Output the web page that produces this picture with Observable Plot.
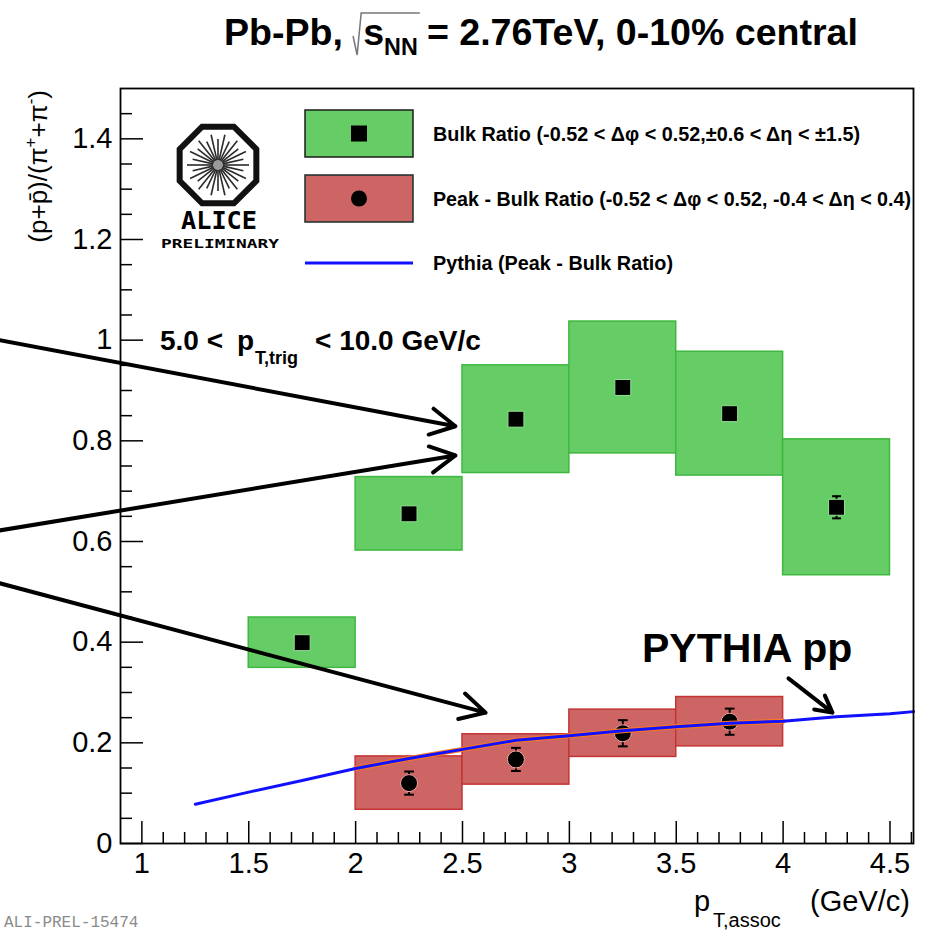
<!DOCTYPE html>
<html>
<head>
<meta charset="utf-8">
<script src="https://cdn.jsdelivr.net/npm/d3@7"></script>
<script src="https://cdn.jsdelivr.net/npm/@observablehq/plot@0.6"></script>
<style>
  html, body { margin: 0; padding: 0; background: #fff; }
  svg { display: block; }
</style>
</head>
<body>
<div id="chart"></div>
<script>
// ---- Bulk ratio (green boxes = systematic, bars = statistical) ----
const bulkBinLow  = [1.5, 2.0, 2.5, 3.0, 3.5, 4.0];
const bulkBinHigh = [2.0, 2.5, 3.0, 3.5, 4.0, 4.5];
const bulkRatio   = [0.399, 0.655, 0.843, 0.906, 0.854, 0.668];
const bulkStat    = [0.008, 0.010, 0.010, 0.010, 0.012, 0.022];
const bulkSys     = [0.050, 0.073, 0.107, 0.131, 0.123, 0.135];

// ---- Peak - Bulk ratio (red boxes) ----
const peakBinLow  = [2.0, 2.5, 3.0, 3.5];
const peakBinHigh = [2.5, 3.0, 3.5, 4.0];
const peakRatio   = [0.120, 0.167, 0.219, 0.242];
const peakStat    = [0.023, 0.023, 0.026, 0.026];
const peakSys     = [0.053, 0.050, 0.047, 0.049];

// ---- PYTHIA pp curve (Peak - Bulk ratio) ----
const pythiaPt    = [1.25, 1.5, 1.75, 2.0, 2.25, 2.5, 2.75, 3.0, 3.25, 3.5, 3.75, 4.0, 4.25, 4.5, 4.61];
const pythiaRatio = [0.078, 0.102, 0.125, 0.149, 0.169, 0.187, 0.205, 0.214, 0.224, 0.232, 0.239, 0.243, 0.252, 0.258, 0.262];

// ---- axis ticks ----
const xMajorTicks = [1, 1.5, 2, 2.5, 3, 3.5, 4, 4.5];
const yMajorTicks = [0, 0.2, 0.4, 0.6, 0.8, 1.0, 1.2, 1.4];

// ---- annotation arrows (data units) ----
const arrowStartX = [0.335, 0.335, 0.335, 4.025];
const arrowStartY = [1.000, 0.622, 0.517, 0.328];
const arrowEndX   = [2.467, 2.467, 2.608, 4.231];
const arrowEndY   = [0.829, 0.771, 0.260, 0.260];

// ---- layout ----
const W = 926, H = 933, ML = 120, MR = 13, MT = 88, MB = 90;
const xDomain = [0.9, 4.61], yDomain = [0, 1.5];
const pxPerX = (W - ML - MR) / (xDomain[1] - xDomain[0]);
const pxPerY = (H - MT - MB) / (yDomain[1] - yDomain[0]);
const FONT = "'Liberation Sans', Arial, Helvetica, sans-serif";

const isMajor = (v, majors) => majors.some(m => Math.abs(m - v) < 1e-6);
const xMinorTicks = d3.range(11, 47).map(k => k / 10).filter(v => !isMajor(v, xMajorTicks));
const yMinorTicks = d3.range(1, 30).map(k => k / 20).filter(v => !isMajor(v, yMajorTicks));

const bulk = bulkRatio.map((v, i) => ({
  lo: bulkBinLow[i], hi: bulkBinHigh[i], pt: (bulkBinLow[i] + bulkBinHigh[i]) / 2,
  v, stat: bulkStat[i], sys: bulkSys[i]
}));
const peak = peakRatio.map((v, i) => ({
  lo: peakBinLow[i], hi: peakBinHigh[i], pt: (peakBinLow[i] + peakBinHigh[i]) / 2,
  v, stat: peakStat[i], sys: peakSys[i]
}));
const pythia = pythiaPt.map((x, i) => ({x, y: pythiaRatio[i]}));
const pythiaOverlap = pythia.filter(d => d.x >= 2 && d.x <= 4);
const arrows = arrowStartX.map((x1, i) => ({x1, y1: arrowStartY[i], x2: arrowEndX[i], y2: arrowEndY[i]}));

// horizontal cap used on the error bars
const capSymbol = {
  draw(ctx, size) {
    const w = Math.sqrt(size) / 2;
    ctx.moveTo(-w, 0);
    ctx.lineTo(w, 0);
  }
};
const fmt = d => String(Math.round(d * 10) / 10);

const GREEN = "#66cc66", GREEN_EDGE = "#3fb83f";
const RED = "#cd6565", RED_EDGE = "#c43434";
const BLUE = "#1111ff";

const plot = Plot.plot({
  width: W, height: H,
  marginLeft: ML, marginRight: MR, marginTop: MT, marginBottom: MB,
  style: {fontFamily: FONT, background: "#fff", color: "#000", overflow: "visible"},
  x: {domain: xDomain, label: null},
  y: {domain: yDomain, label: null},
  marks: [
    Plot.rect(bulk, {x1: "lo", x2: "hi", y1: d => d.v - d.sys, y2: d => d.v + d.sys,
      fill: GREEN, stroke: GREEN_EDGE, strokeWidth: 1.5}),
    Plot.rect(peak, {x1: "lo", x2: "hi", y1: d => d.v - d.sys, y2: d => d.v + d.sys,
      fill: RED, stroke: RED_EDGE, strokeWidth: 1.5}),

    // statistical error bars
    Plot.ruleX(bulk, {x: "pt", y1: d => d.v - d.stat, y2: d => d.v + d.stat, stroke: "#000", strokeWidth: 2}),
    Plot.dot(bulk, {x: "pt", y: d => d.v + d.stat, symbol: capSymbol, r: 5, stroke: "#000", strokeWidth: 2, fill: "none"}),
    Plot.dot(bulk, {x: "pt", y: d => d.v - d.stat, symbol: capSymbol, r: 5, stroke: "#000", strokeWidth: 2, fill: "none"}),
    Plot.ruleX(peak, {x: "pt", y1: d => d.v - d.stat, y2: d => d.v + d.stat, stroke: "#000", strokeWidth: 2}),
    Plot.dot(peak, {x: "pt", y: d => d.v + d.stat, symbol: capSymbol, r: 5.5, stroke: "#000", strokeWidth: 2, fill: "none"}),
    Plot.dot(peak, {x: "pt", y: d => d.v - d.stat, symbol: capSymbol, r: 5.5, stroke: "#000", strokeWidth: 2, fill: "none"}),

    // markers
    Plot.dot(bulk, {x: "pt", y: "v", symbol: "square", r: 9, fill: "#000", stroke: "#95e095", strokeWidth: 1}),
    Plot.dot(peak, {x: "pt", y: "v", r: 8.5, fill: "#000", stroke: "#f2a4a4", strokeWidth: 1}),

    // PYTHIA curve
    Plot.line(pythiaOverlap, {x: "x", y: "y", stroke: "#ff7a1a", strokeWidth: 5}),
    Plot.line(pythia, {x: "x", y: "y", stroke: BLUE, strokeWidth: 3}),

    // inward ticks
    Plot.ruleX(xMajorTicks, {x: d => d, y1: yDomain[0], y2: yDomain[0] + 22 / pxPerY, stroke: "#000", strokeWidth: 1.5}),
    Plot.ruleX(xMinorTicks, {x: d => d, y1: yDomain[0], y2: yDomain[0] + 11 / pxPerY, stroke: "#000", strokeWidth: 1.5}),
    Plot.ruleY(yMajorTicks, {y: d => d, x1: xDomain[0], x2: xDomain[0] + 23 / pxPerX, stroke: "#000", strokeWidth: 1.5}),
    Plot.ruleY(yMinorTicks, {y: d => d, x1: xDomain[0], x2: xDomain[0] + 12 / pxPerX, stroke: "#000", strokeWidth: 1.5}),

    Plot.axisX({ticks: xMajorTicks, tickSize: 0, tickPadding: 9, fontSize: 29, tickFormat: fmt, label: null}),
    Plot.axisY({ticks: yMajorTicks, tickSize: 0, tickPadding: 8, fontSize: 29, tickFormat: fmt, label: null}),
    Plot.frame({stroke: "#000", strokeWidth: 1.8}),

    // annotation arrows
    Plot.arrow(arrows, {x1: "x1", y1: "y1", x2: "x2", y2: "y2", stroke: "#000", strokeWidth: 4, headLength: 10.5, headAngle: 56})
  ]
});
document.getElementById("chart").appendChild(plot);

const svg = d3.select(plot);
const g = svg.append("g")
  .attr("font-family", FONT)
  .attr("fill", "#000")
  .attr("text-anchor", "start");

// lay text pieces out one after another, returning their extents
function row(parent, x, y, parts) {
  let cx = x;
  for (const p of parts) {
    cx += p.gap || 0;
    const el = parent.append("text")
      .attr("x", cx).attr("y", y + (p.dy || 0))
      .attr("font-size", p.size)
      .attr("font-weight", p.weight || "normal")
      .text(p.t);
    p.x0 = cx;
    cx += el.node().getComputedTextLength();
    p.x1 = cx;
  }
  return cx;
}

// ---- title (narrow Helvetica look: tall glyphs squeezed to the line width) ----
{
  const tg = g.append("g");
  const parts = [
    {t: "Pb-Pb,", size: 37, weight: "bold"},
    {t: "s", size: 37, weight: "bold", gap: 20},
    {t: "NN", size: 23, weight: "bold", dy: 10},
    {t: "= 2.76TeV, 0-10% central", size: 37, weight: "bold", gap: 9}
  ];
  const end = row(tg, 0, 45, parts);
  const s = parts[1], nn = parts[2];
  tg.append("path")
    .attr("d", `M${s.x0 - 10},36 L${s.x0 - 6},55 L${s.x0 - 2},13 H${nn.x1 + 2}`)
    .attr("fill", "none").attr("stroke", "#777").attr("stroke-width", 1.5);
  const target = 634;
  tg.attr("transform", `translate(224,0) scale(${target / end},1)`);
}

// ---- legend ----
{
  const lg = g.append("g");
  lg.append("rect").attr("x", 305).attr("y", 110).attr("width", 108).attr("height", 47)
    .attr("fill", GREEN).attr("stroke", "#1d1d1d").attr("stroke-width", 1.5);
  lg.append("rect").attr("x", 351).attr("y", 125.5).attr("width", 16).attr("height", 16).attr("fill", "#000");
  lg.append("rect").attr("x", 305).attr("y", 175).attr("width", 108).attr("height", 47)
    .attr("fill", RED).attr("stroke", "#1d2d2d").attr("stroke-width", 1.5);
  lg.append("circle").attr("cx", 359).attr("cy", 198.5).attr("r", 8).attr("fill", "#000");
  lg.append("line").attr("x1", 305).attr("x2", 413).attr("y1", 263).attr("y2", 263)
    .attr("stroke", BLUE).attr("stroke-width", 3);
  const labels = [
    ["Bulk Ratio (-0.52 < \u0394\u03c6 < 0.52,\u00b10.6 < \u0394\u03b7 < \u00b11.5)", 141, 427],
    ["Peak - Bulk Ratio (-0.52 < \u0394\u03c6 < 0.52, -0.4 < \u0394\u03b7 < 0.4)", 206, 478],
    ["Pythia (Peak - Bulk Ratio)", 270, 240]
  ];
  for (const [t, y, w] of labels) {
    lg.append("text").attr("x", 433).attr("y", y).attr("font-size", 20).attr("font-weight", "bold")
      .attr("textLength", w).attr("lengthAdjust", "spacingAndGlyphs").text(t);
  }
}

// ---- ALICE logo ----
{
  const lg = g.append("g").attr("transform", "translate(218,165)");
  const R = 41.5;
  lg.append("polygon")
    .attr("points", d3.range(8).map(k => {
      const a = (22.5 + 45 * k) * Math.PI / 180;
      return [R * Math.cos(a), R * Math.sin(a)].join(",");
    }).join(" "))
    .attr("fill", "#fff").attr("stroke", "#111").attr("stroke-width", 6);
  lg.append("circle").attr("r", 6).attr("fill", "#9a9a9a");
  lg.selectAll("line.ray").data(d3.range(28)).join("line")
    .attr("x1", k => 5 * Math.cos(k * 2 * Math.PI / 28))
    .attr("y1", k => 5 * Math.sin(k * 2 * Math.PI / 28))
    .attr("x2", k => (k % 2 ? 26 : 31) * Math.cos(k * 2 * Math.PI / 28))
    .attr("y2", k => (k % 2 ? 26 : 31) * Math.sin(k * 2 * Math.PI / 28))
    .attr("stroke", "#2a2a2a").attr("stroke-width", 1.6);
  g.append("text").attr("x", 219).attr("y", 229).attr("text-anchor", "middle")
    .attr("font-family", "'DejaVu Sans Mono', monospace").attr("font-weight", "bold")
    .attr("font-size", 25).attr("textLength", 76).attr("lengthAdjust", "spacingAndGlyphs").text("ALICE");
  g.append("text").attr("x", 220).attr("y", 248).attr("text-anchor", "middle")
    .attr("font-family", "'DejaVu Sans Mono', monospace").attr("font-weight", "bold")
    .attr("font-size", 13).attr("textLength", 118).attr("lengthAdjust", "spacingAndGlyphs").text("PRELIMINARY");
}

// ---- trigger selection ----
{
  const tg = g.append("g").attr("font-weight", "bold");
  tg.append("text").attr("x", 160).attr("y", 350).attr("font-size", 28).text("5.0 <");
  tg.append("text").attr("x", 237).attr("y", 350).attr("font-size", 28).text("p");
  tg.append("text").attr("x", 255).attr("y", 364).attr("font-size", 18).text("T,trig");
  tg.append("text").attr("x", 315).attr("y", 350).attr("font-size", 28).text("< 10.0 GeV/c");
}

// ---- PYTHIA pp label ----
g.append("text").attr("x", 642).attr("y", 662).attr("font-size", 41).attr("font-weight", "bold").text("PYTHIA pp");

// ---- x-axis title ----
g.append("text").attr("x", 694).attr("y", 911).attr("font-size", 29).text("p");
g.append("text").attr("x", 713).attr("y", 927).attr("font-size", 20).text("T,assoc");
g.append("text").attr("x", 910).attr("y", 911).attr("font-size", 29).attr("text-anchor", "end").text("(GeV/c)");

// ---- y-axis title ----
{
  const t = g.append("text").attr("transform", "translate(47,90) rotate(-90)")
    .attr("text-anchor", "end").attr("font-size", 26);
  t.append("tspan").text("(p+p\u0304)/(\u03c0");
  t.append("tspan").attr("dy", -11).attr("font-size", 17).text("+");
  t.append("tspan").attr("dy", 11).text("+\u03c0");
  t.append("tspan").attr("dy", -11).attr("font-size", 17).text("-");
  t.append("tspan").attr("dy", 11).text(")");
}

// ---- preliminary figure id ----
g.append("text").attr("x", 4).attr("y", 927).attr("font-family", "'Liberation Mono', 'DejaVu Sans Mono', monospace")
  .attr("font-size", 16).attr("fill", "#8a8a8a").text("ALI-PREL-15474");
</script>
</body>
</html>
